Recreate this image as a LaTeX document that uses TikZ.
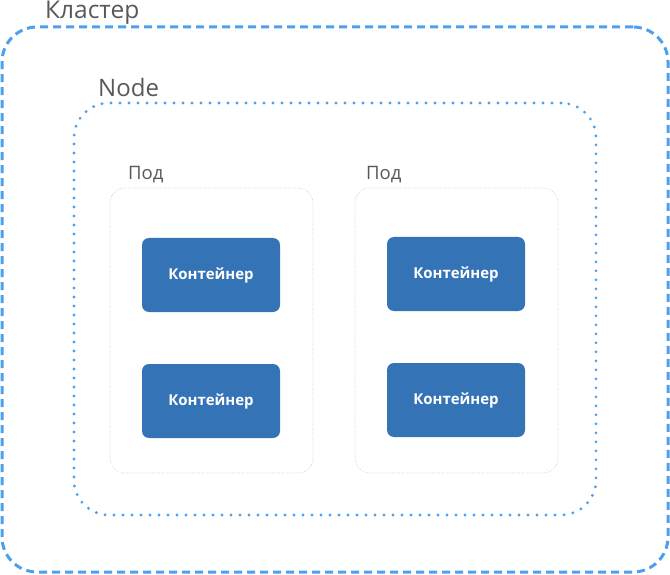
\documentclass[tikz,border=0pt]{standalone}
\usepackage{fontspec}
\setmainfont{Open Sans}
\definecolor{clusterblue}{RGB}{77,160,238}
\definecolor{podgray}{RGB}{200,200,200}
\definecolor{boxblue}{RGB}{52,115,182}
\definecolor{labelgray}{RGB}{88,88,88}
\tikzset{
	cluster/.style={draw=clusterblue, line width=3pt, dash pattern=on 8pt off 5pt, rounded corners=35pt},
	nodebox/.style={draw=clusterblue, line width=3.2pt, line cap=round, dash pattern=on 0pt off 9pt, rounded corners=35pt},
	pod/.style={draw=podgray, line width=1pt, line cap=round, dash pattern=on 0pt off 2.5pt, rounded corners=15pt, minimum width=203pt, minimum height=285pt},
	container/.style={fill=boxblue, rounded corners=7pt, minimum width=138pt, minimum height=74pt, text=white, font=\fontsize{15}{18}\selectfont\bfseries},
	caption/.style={anchor=base west, inner sep=0pt, text=labelgray}
}
\begin{document}
\begin{tikzpicture}[x=1pt, y=-1pt]
				\useasboundingbox (0,0) rectangle (670,575);
				\node[cluster, minimum width=666pt, minimum height=545pt] (K)at(335, 299.5) {};
				\node[nodebox, minimum width=522pt, minimum height=412pt] (N)at(335, 309) {};
				\node[pod] (P1)at(211.5, 330.5) {};
				\node[pod] (P2)at(456.5, 330.5) {};
				\node[container] (C1)at(211, 275) {Контейнер};
				\node[container] (C2)at(211, 401) {Контейнер};
				\node[container] (C3)at(456, 274) {Контейнер};
				\node[container] (C4)at(456, 400) {Контейнер};
				\node[caption, font=\fontsize{24.5}{28}\selectfont] (LK)at(45, 19) {Кластер};
				\node[caption, font=\fontsize{24}{28}\selectfont] (LN)at(98, 97) {Node};
				\node[caption, font=\fontsize{18.5}{22}\selectfont] (LP1)at(128, 180) {Под};
				\node[caption, font=\fontsize{18.5}{22}\selectfont] (LP2)at(366, 180) {Под};
			\end{tikzpicture}
\end{document}
